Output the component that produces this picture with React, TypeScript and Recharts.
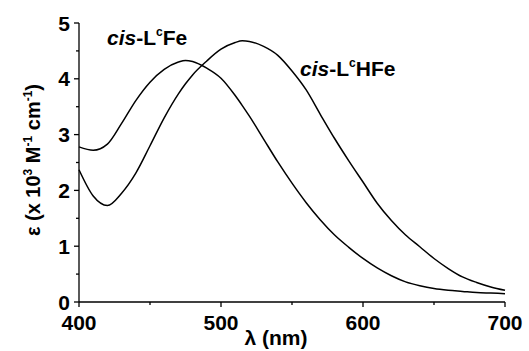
import { Customized, Line, LineChart, XAxis, YAxis } from 'recharts'

const wavelengths = [
  400, 410, 420, 430, 440, 450, 460, 470, 475, 480, 490, 500, 510, 515, 520, 530, 540, 550, 560,
  570, 580, 590, 600, 610, 620, 630, 640, 650, 660, 670, 680, 690, 700,
]

// cis-LcFe
const cisLcFe = [
  2.78, 2.72, 2.83, 3.2, 3.61, 3.94, 4.17, 4.3, 4.33, 4.31, 4.19, 4.01, 3.7, 3.52, 3.33, 2.92, 2.51,
  2.13, 1.78, 1.47, 1.2, 0.98, 0.78, 0.61, 0.47, 0.36, 0.29, 0.24, 0.21, 0.19, 0.17, 0.16, 0.15,
]

// cis-LcHFe
const cisLcHFe = [
  2.37, 1.9, 1.73, 1.95, 2.31, 2.8, 3.3, 3.73, 3.91, 4.07, 4.32, 4.53, 4.65, 4.68, 4.67, 4.58, 4.42,
  4.14, 3.8, 3.36, 2.93, 2.53, 2.15, 1.77, 1.46, 1.2, 0.99, 0.78, 0.6, 0.45, 0.35, 0.27, 0.21,
]

const xTicks = [400, 450, 500, 550, 600, 650, 700]
const xLabels = [400, 500, 600, 700]
const yTicks = [0, 0.5, 1, 1.5, 2, 2.5, 3, 3.5, 4, 4.5, 5]
const yLabels = [0, 1, 2, 3, 4, 5]

const data = wavelengths.map((w, i) => ({ w, fe: cisLcFe[i], hfe: cisLcHFe[i] }))

const font = '"Liberation Sans", Arial, sans-serif'

function XTick({ x, y, payload }: any) {
  const major = xLabels.includes(payload.value)
  return (
    <g>
      <line x1={x} x2={x} y1={y} y2={y + (major ? 5 : 3)} stroke="#000" strokeWidth={1.3} />
      {major && (
        <text x={x} y={y + 28} textAnchor="middle" fontFamily={font} fontWeight="bold" fontSize={21}>
          {payload.value}
        </text>
      )}
    </g>
  )
}

function YTick({ x, y, payload }: any) {
  const major = yLabels.includes(payload.value)
  return (
    <g>
      <line x1={x} x2={x - (major ? 5 : 3)} y1={y} y2={y} stroke="#000" strokeWidth={1.3} />
      {major && (
        <text x={x - 9} y={y + 7.5} textAnchor="end" fontFamily={font} fontWeight="bold" fontSize={21}>
          {payload.value}
        </text>
      )}
    </g>
  )
}

function Labels() {
  return (
    <g fontFamily={font} fontWeight="bold" fill="#000">
      <text x={276} y={345} textAnchor="middle" fontSize={21}>
        λ (nm)
      </text>
      <text transform="translate(40,160) rotate(-90)" textAnchor="middle" fontSize={20}>
        ε (x 10<tspan fontSize={12} dy={-8}>3</tspan>
        <tspan dy={8}> M</tspan>
        <tspan fontSize={12} dy={-8}>-1</tspan>
        <tspan dy={8}> cm</tspan>
        <tspan fontSize={12} dy={-8}>-1</tspan>
        <tspan dy={8}>)</tspan>
      </text>
      <text x={107} y={45} fontSize={21}>
        <tspan fontStyle="italic">cis</tspan>-L
        <tspan fontSize={12} dy={-9}>c</tspan>
        <tspan dy={9}>Fe</tspan>
      </text>
      <text x={300} y={76} fontSize={21}>
        <tspan fontStyle="italic">cis</tspan>-L
        <tspan fontSize={12} dy={-9}>c</tspan>
        <tspan dy={9}>HFe</tspan>
      </text>
    </g>
  )
}

export default function App() {
  return (
    <div style={{ position: 'absolute', left: 0, top: 0, background: '#fff' }}>
      <LineChart width={529} height={351} data={data} margin={{ top: 23, right: 24, left: 0, bottom: 0 }}>
        <XAxis
          dataKey="w"
          type="number"
          domain={[400, 700]}
          ticks={xTicks}
          height={49}
          tickSize={0}
          tickMargin={0}
          tickLine={false}
          tick={<XTick />}
          axisLine={{ stroke: '#000', strokeWidth: 1.3 }}
          interval={0}
        />
        <YAxis
          type="number"
          domain={[0, 5]}
          ticks={yTicks}
          width={79}
          tickSize={0}
          tickMargin={0}
          tickLine={false}
          tick={<YTick />}
          axisLine={{ stroke: '#000', strokeWidth: 1.3 }}
          interval={0}
        />
        <Line
          type="monotone"
          dataKey="fe"
          stroke="#000"
          strokeWidth={1.5}
          dot={false}
          isAnimationActive={false}
        />
        <Line
          type="monotone"
          dataKey="hfe"
          stroke="#000"
          strokeWidth={1.5}
          dot={false}
          isAnimationActive={false}
        />
        <Customized component={Labels} />
      </LineChart>
    </div>
  )
}
